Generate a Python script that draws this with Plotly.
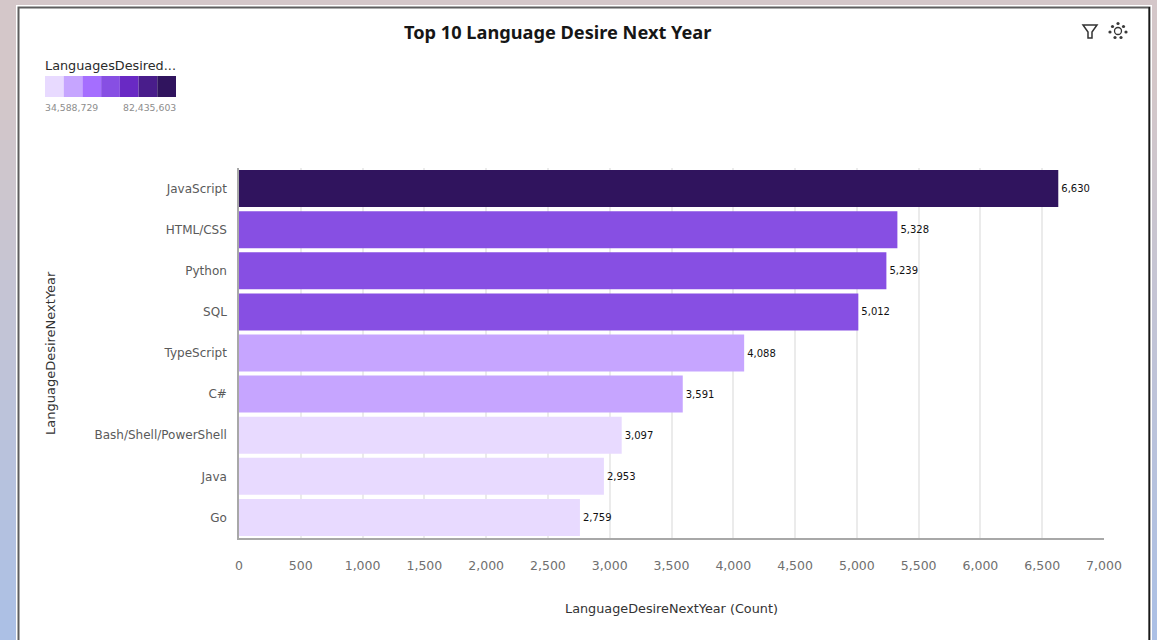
import plotly.graph_objects as go

W, H = 1157, 640
languages = ["JavaScript", "HTML/CSS", "Python", "SQL", "TypeScript", "C#",
             "Bash/Shell/PowerShell", "Java", "Go"]
counts = [6630, 5328, 5239, 5012, 4088, 3591, 3097, 2953, 2759]
bar_colors = ["#30145e", "#874fe3", "#874fe3", "#874fe3", "#c6a5ff", "#c6a5ff",
              "#e8daff", "#e8daff", "#e8daff"]
legend_colors = ["#e8daff", "#c6a5ff", "#a56eff", "#874fe3", "#6929c4", "#491d8b", "#30145e"]
x_ticks = list(range(0, 7001, 500))
FONT = "DejaVu Sans"
TITLE_FONT = "Noto Sans"


def px(x):
    return x / W


def py(y):
    return 1 - y / H


def rect(x0, y0, x1, y1, fill, line=None, width=0, layer="below"):
    return dict(type="rect", xref="paper", yref="paper", x0=px(x0), y0=py(y0), x1=px(x1), y1=py(y1),
                fillcolor=fill, line=dict(color=line or fill, width=width), layer=layer)


def lerp(a, b, t):
    return "rgb(%d,%d,%d)" % tuple(round(a[i] + (b[i] - a[i]) * t) for i in range(3))


shapes = []
# page backdrop: pink-grey at top fading to blue at the bottom
TOP, BOTTOM = (212, 199, 201), (172, 192, 229)
steps = 32
for i in range(steps):
    c = lerp(TOP, BOTTOM, max(0, (i / (steps - 1) - 0.12) / 0.88))
    y0, y1 = H * i / steps, H * (i + 1) / steps
    shapes.append(rect(0, y0, 17, y1 + 1, c))
    shapes.append(rect(1152, y0, W, y1 + 1, c))
shapes.append(rect(0, 0, W, 5, "#d4c7c9"))
# card
shapes.append(rect(16, 5, 1152, H, "#ffffff"))
shapes.append(rect(18.5, 7.5, 1149.5, H + 5, "#ffffff", "#5e5e5e", 2))
shapes.append(rect(1148.5, 7, 1150, H, "#1a1a1a"))
# colour legend
sw = (176 - 45) / len(legend_colors)
for i, c in enumerate(legend_colors):
    shapes.append(rect(45 + i * sw, 76, 45 + (i + 1) * sw, 97, c))
# filter icon
shapes.append(dict(type="path", xref="paper", yref="paper", line=dict(color="#333333", width=1.5),
                   path="M %f %f L %f %f L %f %f L %f %f L %f %f L %f %f Z" % (
                       px(1083), py(25), px(1097), py(25), px(1092), py(32), px(1092), py(38),
                       px(1088), py(38), px(1088), py(32))))
# settings icon
shapes.append(dict(type="circle", xref="paper", yref="paper", x0=px(1114.5), y0=py(27.5), x1=px(1121.5), y1=py(34.5),
                   line=dict(color="#333333", width=1.3), fillcolor="#ffffff"))
for dx, dy in [(0, -7.5), (5.5, -4.5), (-5.5, -4.5), (8, 1), (-8, 1), (3, 6.5), (-3, 6.5)]:
    cx, cy = 1118 + dx, 31 + dy
    shapes.append(dict(type="circle", xref="paper", yref="paper", x0=px(cx - 1.6), y0=py(cy - 1.6),
                       x1=px(cx + 1.6), y1=py(cy + 1.6), line=dict(width=0), fillcolor="#3a3a3a"))

fig = go.Figure(go.Bar(
    y=languages, x=counts, orientation="h",
    marker=dict(color=bar_colors, line=dict(width=0)),
    text=[f"{v:,}" for v in counts], textposition="outside", cliponaxis=False,
    textfont=dict(family=FONT, size=10, color="#111111"), width=0.9,
))


def note(text, x, y, size, color, anchor="center", angle=0, weight=None, family=FONT):
    return dict(text=text, xref="paper", yref="paper", x=px(x), y=py(y), showarrow=False,
                xanchor=anchor, yanchor="middle", textangle=angle,
                font=dict(family=family, size=size, color=color, weight=weight))


fig.update_layout(
    width=W, height=H, margin=dict(l=0, r=0, t=0, b=0, pad=0), autosize=False,
    paper_bgcolor="#ffffff", plot_bgcolor="rgba(0,0,0,0)", showlegend=False,
    font=dict(family=FONT), shapes=shapes,
    xaxis=dict(domain=[px(239), px(1104)], range=[0, 7000], tickvals=x_ticks, tickformat=",",
               automargin=False,
               showgrid=True, gridcolor="#ebebeb", gridwidth=1.5, zeroline=False,
               showline=True, linecolor="#a8a8a8", linewidth=1.5,
               ticks="", ticklabelstandoff=15,
               tickfont=dict(family=FONT, size=12.5, color="#6f6f6f")),
    yaxis=dict(domain=[py(538), py(168)], autorange="reversed", showgrid=False, zeroline=False,
               automargin=False,
               showline=True, linecolor="#a8a8a8", linewidth=1.5,
               ticks="", ticklabelstandoff=8,
               tickfont=dict(family=FONT, size=12, color="#5a5a5a")),
    annotations=[
        note("Top 10 Language Desire Next Year", 557, 32, 18.2, "#161616", weight="bold", family=TITLE_FONT),
        note("LanguagesDesired...", 43, 65, 12.8, "#2b2b2b", anchor="left"),
        note("34,588,729", 43, 107, 9.3, "#8d8d8d", anchor="left"),
        note("82,435,603", 178, 107, 9.3, "#8d8d8d", anchor="right"),
        note("LanguageDesireNextYear", 50, 353, 13, "#333333", angle=-90),
        note("LanguageDesireNextYear (Count)", 671, 608, 12.8, "#333333"),
    ],
)
fig.write_html(
    "out.html", config=dict(displayModeBar=False),
    post_script="""
document.documentElement.style.overflow='hidden';
document.body.style.margin='0';
document.body.style.overflow='hidden';
""")
